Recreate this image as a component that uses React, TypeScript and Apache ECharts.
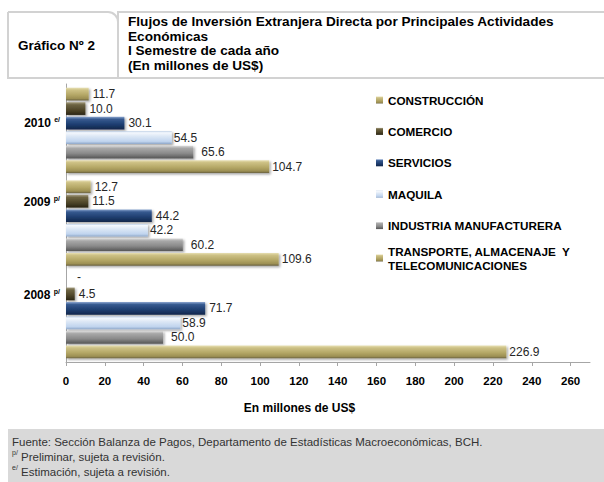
import React, { useEffect, useRef } from "react";
import * as echarts from "echarts";

const categories = ["2008", "2009", "2010"];
const yearMarks = ["p/", "p/", "e/"];
const seriesNames = [
  "CONSTRUCCIÓN",
  "COMERCIO",
  "SERVICIOS",
  "MAQUILA",
  "INDUSTRIA MANUFACTURERA",
  "TRANSPORTE, ALMACENAJE  Y\nTELECOMUNICACIONES",
];
const construccion = [0, 12.7, 11.7];
const comercio = [4.5, 11.5, 10.0];
const servicios = [71.7, 44.2, 30.1];
const maquila = [58.9, 42.2, 54.5];
const industria = [50.0, 60.2, 65.6];
const transporte = [226.9, 109.6, 104.7];
const xTicks = [0, 20, 40, 60, 80, 100, 120, 140, 160, 180, 200, 220, 240, 260];
const axisMax = 270;

const FONT = "'Liberation Sans', Arial, sans-serif";

const grad = (stops: [number, string][]) =>
  new echarts.graphic.LinearGradient(
    0, 0, 0, 1,
    stops.map(([offset, color]) => ({ offset, color }))
  );

const khaki = () =>
  grad([[0, "#e8e0b4"], [0.18, "#cdc185"], [0.55, "#b5a867"], [0.85, "#9c8f53"], [1, "#6a6240"]]);
const colors = [
  khaki(),
  grad([[0, "#a39b7e"], [0.2, "#6d6442"], [0.6, "#50472a"], [1, "#2a2514"]]),
  grad([[0, "#8aa5cf"], [0.2, "#36598f"], [0.6, "#1f3e70"], [1, "#11264a"]]),
  grad([[0, "#b8cce6"], [0.12, "#f4f8fd"], [0.4, "#dce7f5"], [0.8, "#c0d4ee"], [1, "#8ea7c9"]]),
  grad([[0, "#dadada"], [0.2, "#a8a8a8"], [0.6, "#8a8a8a"], [1, "#555555"]]),
  khaki(),
];
const labelDistances = [4, 4, 4, 2, 8, 3];
const dataSets = [construccion, comercio, servicios, maquila, industria, transporte];

export default function App() {
  const ref = useRef<HTMLDivElement>(null);
  useEffect(() => {
    document.body.style.margin = "0";
    const chart = echarts.init(ref.current!, null, { renderer: "svg" });
    const series = dataSets.map((arr, i) => ({
      type: "bar",
      name: seriesNames[i],
      data: arr.map((v) =>
        v === 0 ? { value: v, label: { distance: 11, offset: [0, -2] } } : v
      ),
      barGap: "14%",
      barCategoryGap: "8%",
      itemStyle: {
        color: colors[i],
        shadowColor: "rgba(0,0,0,0.35)",
        shadowBlur: 2,
        shadowOffsetX: 1.5,
        shadowOffsetY: 1.5,
      },
      label: {
        show: true,
        position: "right",
        distance: labelDistances[i],
        color: "#262626",
        fontSize: 12,
        fontFamily: FONT,
        formatter: (p: any) => (p.value === 0 ? "-" : Number(p.value).toFixed(1)),
      },
    }));

    chart.setOption({
      animation: false,
      textStyle: { fontFamily: FONT },
      grid: { left: 66, right: 14, top: 84, bottom: 120, containLabel: false },
      legend: [
        {
          data: seriesNames.slice(0, 5),
          orient: "vertical",
          left: 376,
          top: 93,
          padding: 0,
          itemWidth: 7,
          itemHeight: 7,
          itemGap: 17.4,
          icon: "rect",
          selectedMode: false,
          textStyle: { fontSize: 11.7, fontWeight: "bold", color: "#000", lineHeight: 14, fontFamily: FONT },
        },
        {
          data: seriesNames.slice(5),
          orient: "vertical",
          left: 376,
          top: 237,
          padding: 0,
          itemWidth: 7,
          itemHeight: 7,
          icon: "rect",
          selectedMode: false,
          textStyle: {
            fontSize: 11.7,
            fontWeight: "bold",
            color: "#000",
            lineHeight: 14,
            padding: [14, 0, 0, 0],
            fontFamily: FONT,
          },
        },
      ],
      xAxis: {
        type: "value",
        min: 0,
        max: axisMax,
        interval: 20,
        splitLine: { show: false },
        axisLine: { show: true, lineStyle: { color: "#a6a6a6", width: 1 } },
        axisTick: { show: true, length: 4, customValues: xTicks, lineStyle: { color: "#a6a6a6" } },
        axisLabel: {
          customValues: xTicks,
          margin: 13,
          fontSize: 11.5,
          fontWeight: "bold",
          color: "#000",
          fontFamily: FONT,
        },
        name: "En millones de US$",
        nameLocation: "middle",
        nameGap: 40,
        nameTextStyle: {
          fontSize: 12,
          fontWeight: "bold",
          color: "#000",
          padding: [0, 57, 0, 0],
          fontFamily: FONT,
        },
      },
      yAxis: {
        type: "category",
        data: categories,
        axisLine: { show: true, lineStyle: { color: "#a6a6a6" } },
        axisTick: { show: false },
        axisLabel: {
          margin: 6,
          lineHeight: 14,
          formatter: (v: string, idx: number) =>
            `{y|${v}} {s|${yearMarks[idx]}}` + (idx === 2 ? "\n" : "\n\n\n"),
          rich: {
            y: { fontSize: 12, fontWeight: "bold", color: "#000", fontFamily: FONT, lineHeight: 14 },
            s: { fontSize: 7, fontWeight: "bold", color: "#000", verticalAlign: "top", fontFamily: FONT },
          },
        },
      },
      series,
      graphic: [
        {
          type: "rect",
          shape: { x: 8, y: 12, width: 110, height: 66, r: [0, 10, 0, 0] },
          style: { fill: "#fff", stroke: "#d2d2d2", lineWidth: 2 },
        },
        {
          type: "rect",
          shape: { x: 118, y: 12, width: 500, height: 66 },
          style: { fill: "#fff", stroke: "#d2d2d2", lineWidth: 2 },
        },
        {
          type: "text",
          x: 18,
          y: 45,
          style: {
            text: "Gráfico Nº 2",
            fontSize: 13.5,
            fontWeight: "bold",
            fill: "#000",
            fontFamily: FONT,
            verticalAlign: "middle",
          },
        },
        {
          type: "text",
          x: 128,
          y: 14.5,
          style: {
            text:
              "Flujos de Inversión Extranjera Directa por Principales Actividades\nEconómicas\nI Semestre de cada año\n(En millones de US$)",
            fontSize: 13.6,
            lineHeight: 14.5,
            fontWeight: "bold",
            fill: "#000",
            fontFamily: FONT,
            verticalAlign: "top",
          },
        },
        {
          type: "rect",
          shape: { x: 8, y: 429, width: 600, height: 60 },
          style: { fill: "#d9d9d9" },
        },
        {
          type: "text",
          x: 12,
          y: 434,
          style: {
            text:
              "Fuente: Sección Balanza de Pagos, Departamento de Estadísticas Macroeconómicas, BCH.\n{s|p/} Preliminar, sujeta a revisión.\n{s|e/} Estimación, sujeta a revisión.",
            fontSize: 11.5,
            lineHeight: 15,
            fill: "#333",
            fontFamily: FONT,
            verticalAlign: "top",
            rich: {
              s: { fontSize: 7, fill: "#333", verticalAlign: "top", fontFamily: FONT },
            },
          },
        },
      ],
    });
    return () => chart.dispose();
  }, []);
  return <div ref={ref} style={{ width: 604, height: 482 }} />;
}
